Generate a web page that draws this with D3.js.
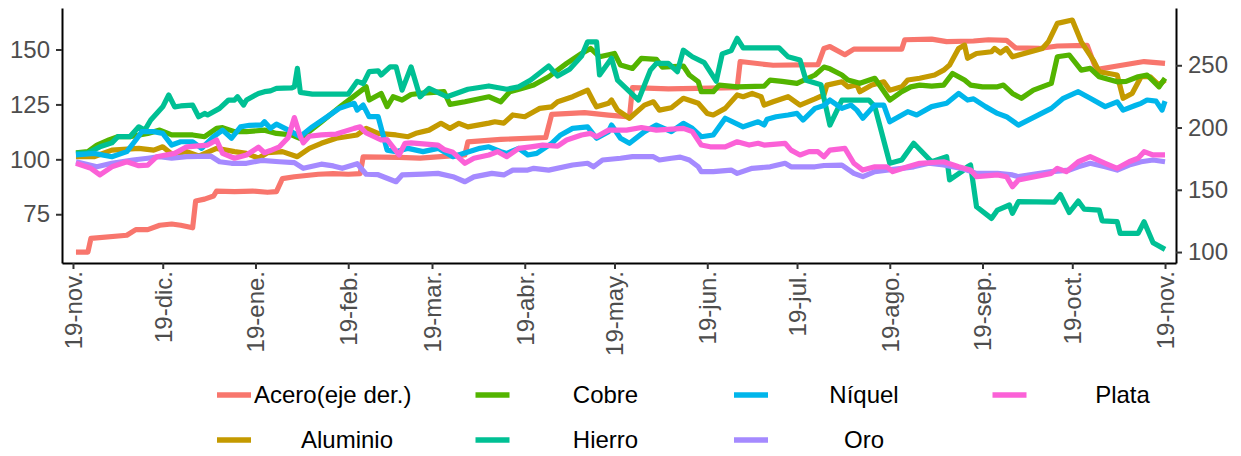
<!DOCTYPE html>
<html>
<head>
<meta charset="utf-8">
<script src="https://cdn.jsdelivr.net/npm/d3@7"></script>
<style>
  body { margin: 0; background: #ffffff; }
  svg text { font-family: "Liberation Sans", Arial, sans-serif; }
</style>
</head>
<body>
<svg id="chart" width="1241" height="456"></svg>
<script>
// Índices de precios de metales (base 100), acero en el eje derecho
const acero = [["2020-11-20",100],["2020-11-24",100],["2020-11-25",111],["2020-12-07",113.5],["2020-12-10",118],["2020-12-14",118],["2020-12-18",121.5],["2020-12-22",122.5],["2020-12-25",121.5],["2020-12-29",119.5],["2020-12-30",141],["2021-01-02",142.5],["2021-01-05",145],["2021-01-06",149],["2021-01-12",148.5],["2021-01-18",149],["2021-01-23",148],["2021-01-26",148.5],["2021-01-28",159],["2021-02-01",160.5],["2021-02-09",162.5],["2021-02-14",163],["2021-02-19",162.5],["2021-02-23",163],["2021-02-24",176.5],["2021-03-08",176],["2021-03-15",175.5],["2021-03-30",178],["2021-03-31",188.5],["2021-04-11",190.5],["2021-04-26",192],["2021-04-28",210.5],["2021-05-09",212],["2021-05-17",210],["2021-05-24",208.5],["2021-05-25",232],["2021-06-06",231],["2021-06-29",232],["2021-06-30",253],["2021-07-11",250],["2021-07-26",250.5],["2021-07-28",263.5],["2021-07-30",265],["2021-08-04",258.5],["2021-08-07",263],["2021-08-23",263],["2021-08-24",270.5],["2021-09-02",271],["2021-09-07",269],["2021-09-16",269.5],["2021-09-21",270.5],["2021-09-27",270],["2021-09-30",264],["2021-10-08",263.5],["2021-10-14",265.5],["2021-10-24",266],["2021-10-27",246.5],["2021-11-02",249],["2021-11-12",253],["2021-11-19",251.5]];

const aluminio = [["2020-11-20",101.2],["2020-11-26",101.2],["2020-12-02",104.2],["2020-12-11",105],["2020-12-16",104.2],["2020-12-19",105.7],["2020-12-22",102.4],["2020-12-27",103.5],["2020-12-31",101.5],["2021-01-06",105],["2021-01-12",103.5],["2021-01-16",102.7],["2021-01-20",100.5],["2021-01-23",103],["2021-01-28",103.5],["2021-02-02",101.2],["2021-02-06",105],["2021-02-10",107.3],["2021-02-15",109.6],["2021-02-22",111.1],["2021-02-25",114.1],["2021-03-01",111.8],["2021-03-07",111.1],["2021-03-11",110.3],["2021-03-14",112],["2021-03-18",113.3],["2021-03-22",116.4],["2021-03-25",114.1],["2021-03-28",116.4],["2021-03-31",114.8],["2021-04-07",116.5],["2021-04-09",117.1],["2021-04-12",116.5],["2021-04-15",120.2],["2021-04-19",119.4],["2021-04-22",121.7],["2021-04-24",123.2],["2021-04-28",123.9],["2021-04-30",126.2],["2021-05-05",128.5],["2021-05-10",131.5],["2021-05-12",126.2],["2021-05-13",123.9],["2021-05-17",125.5],["2021-05-18",127],["2021-05-20",122.4],["2021-05-24",118.7],["2021-05-29",124.7],["2021-06-01",126.2],["2021-06-03",122.4],["2021-06-07",123.5],["2021-06-11",127.8],["2021-06-16",125.5],["2021-06-19",120.9],["2021-06-21",120.2],["2021-06-25",123.2],["2021-06-29",129.3],["2021-07-01",128.5],["2021-07-04",130],["2021-07-07",128.5],["2021-07-08",124.7],["2021-07-11",126.2],["2021-07-16",128.5],["2021-07-20",124.7],["2021-07-25",127.5],["2021-07-28",129.3],["2021-07-29",133.8],["2021-08-03",135.3],["2021-08-05",133],["2021-08-08",134],["2021-08-09",130.8],["2021-08-13",133.8],["2021-08-17",135.3],["2021-08-19",131.5],["2021-08-23",133],["2021-08-25",136.1],["2021-08-29",136.9],["2021-09-03",138.4],["2021-09-06",140.6],["2021-09-08",142.9],["2021-09-11",150.5],["2021-09-13",152],["2021-09-14",146],["2021-09-17",148.2],["2021-09-22",149],["2021-09-23",150.5],["2021-09-25",148.5],["2021-09-27",150.5],["2021-09-29",146.7],["2021-10-09",150.5],["2021-10-11",153.5],["2021-10-14",161.9],["2021-10-19",163.4],["2021-10-22",153.5],["2021-10-26",145.2],["2021-10-28",139.9],["2021-11-03",138.4],["2021-11-05",127.8],["2021-11-08",130],["2021-11-11",137.6],["2021-11-14",137.6],["2021-11-17",133.8],["2021-11-19",136.1]];

const cobre = [["2020-11-20",103],["2020-11-24",103.5],["2020-11-27",106.5],["2020-12-01",108.8],["2020-12-04",110.3],["2020-12-08",110.3],["2020-12-14",111.8],["2020-12-18",113.3],["2020-12-22",111.1],["2020-12-29",111.1],["2021-01-02",110.3],["2021-01-06",114.1],["2021-01-08",114.4],["2021-01-12",112.6],["2021-01-16",112.6],["2021-01-22",113.3],["2021-01-26",111.8],["2021-01-31",111.1],["2021-02-03",109.5],["2021-02-10",117],["2021-02-17",124.7],["2021-02-25",133],["2021-02-26",127],["2021-03-02",130],["2021-03-04",124],["2021-03-06",128.5],["2021-03-09",127],["2021-03-12",129.5],["2021-03-15",130],["2021-03-23",130.8],["2021-03-25",125],["2021-03-30",126.2],["2021-04-07",128.5],["2021-04-11",126.2],["2021-04-14",130.8],["2021-04-18",132.3],["2021-04-22",133.8],["2021-04-27",137.6],["2021-05-03",143.7],["2021-05-08",148.2],["2021-05-11",150.5],["2021-05-14",146.7],["2021-05-19",148.2],["2021-05-21",142.9],["2021-05-25",141.4],["2021-05-28",146],["2021-06-02",145.5],["2021-06-04",142],["2021-06-11",142.5],["2021-06-13",138.4],["2021-06-16",135.3],["2021-06-17",130.8],["2021-06-21",130.8],["2021-06-23",133.8],["2021-06-29",133],["2021-07-08",133.3],["2021-07-10",136.1],["2021-07-14",135.5],["2021-07-19",134.6],["2021-07-25",138.4],["2021-07-28",142],["2021-07-30",141.2],["2021-08-03",138.4],["2021-08-05",136.1],["2021-08-09",134.6],["2021-08-14",136.9],["2021-08-19",127],["2021-08-23",130.8],["2021-08-26",133],["2021-08-29",133.8],["2021-09-02",133.3],["2021-09-06",133.8],["2021-09-09",139.1],["2021-09-13",136.1],["2021-09-15",133.8],["2021-09-19",133],["2021-09-24",133],["2021-09-26",133.8],["2021-09-29",130],["2021-10-02",127.8],["2021-10-06",131.5],["2021-10-12",134.6],["2021-10-14",146.7],["2021-10-18",147.5],["2021-10-22",140.6],["2021-10-25",141.4],["2021-10-28",137.6],["2021-11-03",135.3],["2021-11-06",135.5],["2021-11-10",137.6],["2021-11-13",138.4],["2021-11-17",133],["2021-11-19",136.9]];

const hierro = [["2020-11-20",102.7],["2020-11-24",103],["2020-11-28",105.7],["2020-12-02",107.5],["2020-12-04",110.3],["2020-12-08",110.3],["2020-12-11",114.8],["2020-12-13",113.3],["2020-12-15",117.9],["2020-12-19",123.9],["2020-12-21",129.3],["2020-12-23",123.9],["2020-12-25",124.3],["2020-12-29",124.7],["2020-12-31",119.4],["2021-01-02",120.9],["2021-01-03",120.2],["2021-01-07",123.2],["2021-01-10",127],["2021-01-12",127],["2021-01-13",128.5],["2021-01-15",124.7],["2021-01-16",127],["2021-01-20",130],["2021-01-22",130.8],["2021-01-24",131.2],["2021-01-26",132.3],["2021-01-31",132.5],["2021-02-01",133],["2021-02-02",141.4],["2021-02-03",130.5],["2021-02-07",129.7],["2021-02-19",129.7],["2021-02-22",135.5],["2021-02-24",134.5],["2021-02-26",139.9],["2021-03-01",140.3],["2021-03-02",138.4],["2021-03-05",142.1],["2021-03-07",142.1],["2021-03-09",131.5],["2021-03-12",142.1],["2021-03-15",128.5],["2021-03-18",132.3],["2021-03-24",128.5],["2021-03-31",131.9],["2021-04-07",133.4],["2021-04-13",131.9],["2021-04-17",133],["2021-04-21",136.1],["2021-04-27",142.5],["2021-04-30",137.9],["2021-05-04",141],["2021-05-08",147],["2021-05-10",153.5],["2021-05-13",153.5],["2021-05-14",138.4],["2021-05-18",146],["2021-05-20",136.1],["2021-05-27",127],["2021-05-31",140.6],["2021-06-02",143.7],["2021-06-06",143.7],["2021-06-09",139.9],["2021-06-11",149.7],["2021-06-14",146.7],["2021-06-18",144],["2021-06-22",135.6],["2021-06-24",148],["2021-06-27",149.5],["2021-06-29",155.1],["2021-07-01",150.7],["2021-07-13",150.7],["2021-07-16",146.7],["2021-07-20",145.2],["2021-07-22",136],["2021-07-27",134],["2021-07-30",115.6],["2021-08-03",127],["2021-08-12",127],["2021-08-14",124],["2021-08-19",98.2],["2021-08-23",99.7],["2021-08-27",107.3],["2021-09-02",98.9],["2021-09-07",101.2],["2021-09-08",90.6],["2021-09-12",94.4],["2021-09-14",96.6],["2021-09-15",97.4],["2021-09-17",78.4],["2021-09-22",73.1],["2021-09-24",76.9],["2021-09-28",79.2],["2021-09-29",75.4],["2021-10-01",80.7],["2021-10-13",80.5],["2021-10-15",84],["2021-10-18",75.8],["2021-10-21",81],["2021-10-23",77.3],["2021-10-28",76.9],["2021-10-29",72],["2021-11-03",71.6],["2021-11-04",66.3],["2021-11-10",66.3],["2021-11-12",71.6],["2021-11-15",62],["2021-11-19",59]];

const niquel = [["2020-11-20",102],["2020-11-26",102.7],["2020-12-02",101.2],["2020-12-07",103.5],["2020-12-10",108.8],["2020-12-12",112.6],["2020-12-16",112.6],["2020-12-19",111.8],["2020-12-22",106.5],["2020-12-25",108],["2020-12-29",108],["2021-01-01",105],["2021-01-05",110.3],["2021-01-08",113.3],["2021-01-11",109.6],["2021-01-14",114.8],["2021-01-17",115.5],["2021-01-21",115.6],["2021-01-22",117.1],["2021-01-24",114.1],["2021-01-26",116],["2021-01-30",113.3],["2021-02-03",110.3],["2021-02-04",111.5],["2021-02-07",114.8],["2021-02-12",119.4],["2021-02-16",123.2],["2021-02-21",125.5],["2021-02-22",122.4],["2021-02-24",124.7],["2021-02-26",119.4],["2021-03-01",119.4],["2021-03-04",104.2],["2021-03-07",103.5],["2021-03-11",105],["2021-03-16",103.5],["2021-03-21",105],["2021-03-26",101.2],["2021-04-04",105],["2021-04-07",105.7],["2021-04-11",103.5],["2021-04-13",102.7],["2021-04-17",105],["2021-04-20",102],["2021-04-23",102.7],["2021-04-28",107.3],["2021-05-01",111.1],["2021-05-05",114.1],["2021-05-10",114.8],["2021-05-13",109.6],["2021-05-17",112.6],["2021-05-18",115.6],["2021-05-21",109.6],["2021-05-24",107.3],["2021-05-29",112.6],["2021-06-02",115.6],["2021-06-07",112.6],["2021-06-11",116.4],["2021-06-14",114.1],["2021-06-17",110.3],["2021-06-21",111.1],["2021-06-25",118.7],["2021-07-01",114.8],["2021-07-06",117.1],["2021-07-08",115.6],["2021-07-09",118.3],["2021-07-12",119.4],["2021-07-16",120.2],["2021-07-19",120.9],["2021-07-21",117.9],["2021-07-25",123.2],["2021-07-28",124.5],["2021-07-30",127],["2021-08-03",123.2],["2021-08-06",124.7],["2021-08-08",122.4],["2021-08-10",118.7],["2021-08-14",124.7],["2021-08-17",124.7],["2021-08-19",117.1],["2021-08-25",121.7],["2021-08-28",120.2],["2021-09-02",124],["2021-09-07",125.5],["2021-09-11",130],["2021-09-14",127],["2021-09-16",127.5],["2021-09-20",124],["2021-09-24",120.9],["2021-09-27",119.4],["2021-10-01",115.6],["2021-10-12",123.2],["2021-10-16",127.8],["2021-10-21",130.8],["2021-10-25",127.8],["2021-10-30",124],["2021-11-03",126.2],["2021-11-05",122.4],["2021-11-09",124.5],["2021-11-11",125.5],["2021-11-13",127],["2021-11-16",126.5],["2021-11-18",122.4],["2021-11-19",126.5]];

const oro = [["2020-11-20",98.9],["2020-11-27",96.6],["2020-12-02",98.2],["2020-12-09",99.7],["2020-12-14",100.5],["2020-12-18",101.2],["2020-12-22",100.5],["2020-12-27",101.2],["2021-01-04",101.5],["2021-01-07",98.9],["2021-01-11",98.2],["2021-01-16",98.2],["2021-01-21",99.5],["2021-01-27",98.9],["2021-02-01",98.5],["2021-02-04",95.9],["2021-02-10",97.8],["2021-02-14",97],["2021-02-17",95.9],["2021-02-22",98],["2021-02-25",93.2],["2021-03-01",93],["2021-03-04",91.4],["2021-03-07",89.8],["2021-03-09",92.9],["2021-03-16",93.3],["2021-03-21",93.6],["2021-03-26",92.1],["2021-03-30",89.8],["2021-04-02",92],["2021-04-08",93.6],["2021-04-12",92.9],["2021-04-15",95.1],["2021-04-20",95.1],["2021-04-22",95.9],["2021-04-27",95.1],["2021-05-05",97.4],["2021-05-10",98.2],["2021-05-12",96.6],["2021-05-15",99.7],["2021-05-21",100.5],["2021-05-25",101.2],["2021-06-01",101.2],["2021-06-03",99.7],["2021-06-07",100.5],["2021-06-10",101],["2021-06-13",99.7],["2021-06-16",96.6],["2021-06-17",94.4],["2021-06-21",94.4],["2021-06-27",95.1],["2021-06-29",93.6],["2021-07-04",95.9],["2021-07-10",96.6],["2021-07-15",98.2],["2021-07-17",96.6],["2021-07-25",96.6],["2021-07-28",97.2],["2021-08-03",97.4],["2021-08-07",93.6],["2021-08-10",92.1],["2021-08-14",94.4],["2021-08-18",95.1],["2021-08-23",95.9],["2021-08-27",96.6],["2021-09-01",98.2],["2021-09-06",97.4],["2021-09-12",95.9],["2021-09-17",93.6],["2021-09-24",93.6],["2021-09-29",92.9],["2021-10-01",92.1],["2021-10-12",94.4],["2021-10-18",95.1],["2021-10-21",96.6],["2021-10-25",98.2],["2021-10-30",96.6],["2021-11-03",95.1],["2021-11-07",97.4],["2021-11-11",98.9],["2021-11-15",99.7],["2021-11-19",98.9]];

const plata = [["2020-11-20",98.2],["2020-11-25",95.9],["2020-11-28",92.9],["2020-12-02",96.6],["2020-12-07",98.9],["2020-12-11",97.1],["2020-12-14",97.4],["2020-12-17",101.2],["2020-12-23",102.7],["2020-12-27",105.7],["2021-01-03",106.5],["2021-01-06",108.8],["2021-01-08",102.7],["2021-01-12",100.5],["2021-01-16",102],["2021-01-20",105.5],["2021-01-22",103],["2021-01-24",104],["2021-01-27",105.7],["2021-01-30",110],["2021-02-01",119],["2021-02-03",110.3],["2021-02-04",107.5],["2021-02-06",110.5],["2021-02-10",111.1],["2021-02-15",111.5],["2021-02-21",114.1],["2021-02-23",114.8],["2021-02-25",112],["2021-03-02",108.8],["2021-03-04",109],["2021-03-08",102],["2021-03-10",107.3],["2021-03-12",107.5],["2021-03-16",107],["2021-03-21",106.5],["2021-03-23",104.5],["2021-03-26",103.2],["2021-03-30",98.2],["2021-04-02",100.5],["2021-04-07",102],["2021-04-10",103.5],["2021-04-13",101.2],["2021-04-17",105],["2021-04-21",105.7],["2021-04-25",106.5],["2021-04-30",106],["2021-05-03",108.8],["2021-05-08",111.1],["2021-05-11",111.8],["2021-05-13",110.3],["2021-05-17",113.3],["2021-05-23",113.3],["2021-05-28",114.5],["2021-06-02",113.3],["2021-06-11",114.1],["2021-06-14",112.6],["2021-06-17",106.5],["2021-06-20",105.7],["2021-06-25",105.7],["2021-06-29",108],["2021-07-03",106.5],["2021-07-06",107.3],["2021-07-08",106.5],["2021-07-15",107.3],["2021-07-17",104.2],["2021-07-20",102],["2021-07-23",103.5],["2021-07-26",103.5],["2021-07-28",101.2],["2021-07-30",104.2],["2021-08-04",105],["2021-08-07",98.2],["2021-08-10",95.1],["2021-08-14",96.6],["2021-08-18",96.6],["2021-08-20",94.4],["2021-08-25",96.6],["2021-08-29",98.2],["2021-09-06",98.9],["2021-09-11",96.6],["2021-09-15",95.1],["2021-09-17",92.1],["2021-09-24",92.9],["2021-09-27",92.1],["2021-09-29",87.5],["2021-10-01",90.6],["2021-10-12",93.6],["2021-10-14",95.9],["2021-10-17",94.4],["2021-10-21",98.9],["2021-10-25",101.2],["2021-10-30",98.2],["2021-11-03",95.9],["2021-11-07",98.9],["2021-11-10",100.5],["2021-11-12",103.5],["2021-11-15",102],["2021-11-19",102]];

// Nombres de las series (orden de la leyenda) y sus colores
const nombres = ["Acero(eje der.)", "Aluminio", "Cobre", "Hierro", "Níquel", "Oro", "Plata"];
const datos = [acero, aluminio, cobre, hierro, niquel, oro, plata];
const colores = ["#F8766D", "#C49A00", "#53B400", "#00C094", "#00B6EB", "#A58AFF", "#FB61D7"];

// Ejes
const ticksFecha = ["2020-11-19","2020-12-19","2021-01-19","2021-02-19","2021-03-19","2021-04-19","2021-05-19","2021-06-19","2021-07-19","2021-08-19","2021-09-19","2021-10-19","2021-11-19"];
const ticksEtiqueta = ["19-nov.","19-dic.","19-ene.","19-feb.","19-mar.","19-abr.","19-may.","19-jun.","19-jul.","19-ago.","19-sep.","19-oct.","19-nov."];
const ticksIzq = [75, 100, 125, 150];
const ticksDer = [100, 150, 200, 250];

const parse = d3.timeParse("%Y-%m-%d");
const panel = { left: 62, right: 1176, top: 8, bottom: 263 };
const fontSize = 24;

const svg = d3.select("#chart");

const inicio = parse(ticksFecha[0]);
const fin = parse(ticksFecha[ticksFecha.length - 1]);
const x = d3.scaleTime()
  .domain([d3.timeHour.offset(inicio, -88), d3.timeHour.offset(fin, 88)])
  .range([panel.left, panel.right]);
const yIzq = d3.scaleLinear().domain([52.8, 168.9]).range([panel.bottom, panel.top]);
const yDer = d3.scaleLinear().domain([91.2, 296]).range([panel.bottom, panel.top]);

// Líneas (acero primero, con su propia escala)
const lineas = svg.append("g");
datos.forEach((serie, i) => {
  const y = i === 0 ? yDer : yIzq;
  const linea = d3.line()
    .x(d => x(parse(d[0])))
    .y(d => y(d[1]));
  lineas.append("path")
    .datum(serie)
    .attr("d", linea)
    .attr("fill", "none")
    .attr("stroke", colores[i])
    .attr("stroke-width", 5.2)
    .attr("stroke-linejoin", "round")
    .attr("stroke-linecap", "butt");
});

function estiloEje(g) {
  g.select(".domain").attr("stroke", "#000").attr("stroke-width", 2);
  g.selectAll(".tick line").attr("stroke", "#333").attr("stroke-width", 2);
  g.selectAll(".tick text").attr("fill", "#4D4D4D").style("font-size", fontSize + "px");
}

// Eje izquierdo
svg.append("g")
  .attr("transform", `translate(${panel.left},0)`)
  .call(d3.axisLeft(yIzq).tickValues(ticksIzq).tickSize(6).tickPadding(6).tickSizeOuter(0))
  .call(estiloEje);

// Eje derecho
svg.append("g")
  .attr("transform", `translate(${panel.right},0)`)
  .call(d3.axisRight(yDer).tickValues(ticksDer).tickSize(6).tickPadding(6).tickSizeOuter(0))
  .call(estiloEje);

// Eje inferior con etiquetas giradas
const ejeX = svg.append("g")
  .attr("transform", `translate(0,${panel.bottom})`)
  .call(d3.axisBottom(x)
    .tickValues(ticksFecha.map(parse))
    .tickFormat((d, i) => ticksEtiqueta[i])
    .tickSize(6).tickSizeOuter(0))
  .call(estiloEje);
ejeX.selectAll(".tick text")
  .attr("transform", "rotate(-90)")
  .attr("text-anchor", "end")
  .attr("x", -8)
  .attr("y", 0)
  .attr("dy", "0.35em");

// Leyenda: 4 columnas x 2 filas, ordenada por columnas
const leyenda = svg.append("g");
const colAncho = 258.5, keyX0 = 217, keyLargo = 34;
const filasY = [395, 440];
nombres.forEach((n, i) => {
  const col = Math.floor(i / 2), fila = i % 2;
  const kx = keyX0 + col * colAncho;
  const ky = filasY[fila];
  leyenda.append("line")
    .attr("x1", kx).attr("x2", kx + keyLargo)
    .attr("y1", ky).attr("y2", ky)
    .attr("stroke", colores[i]).attr("stroke-width", 5.5);
  const t = leyenda.append("text")
    .attr("y", ky)
    .attr("dy", "0.35em")
    .attr("fill", "#000")
    .style("font-size", fontSize + "px")
    .text(n);
  const ancho = t.node().getComputedTextLength();
  if (ancho > 140) {
    t.attr("x", kx + keyLargo + 3).attr("text-anchor", "start");
  } else {
    t.attr("x", kx + keyLargo + 96).attr("text-anchor", "middle");
  }
});
</script>
</body>
</html>
